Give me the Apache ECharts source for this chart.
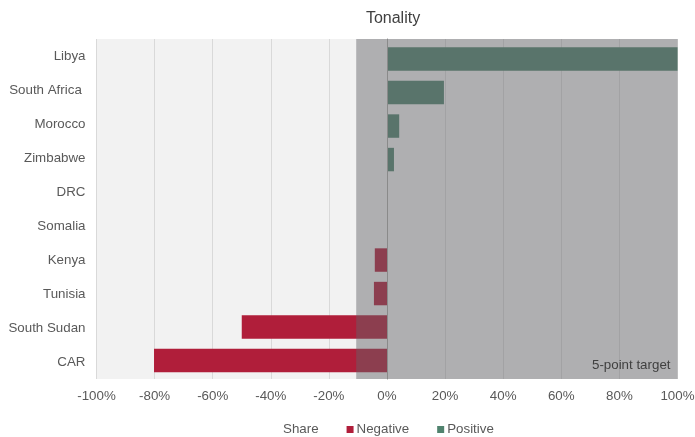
<!DOCTYPE html>
<html>
<head>
<meta charset="utf-8">
<script src="https://cdn.jsdelivr.net/npm/echarts@6/dist/echarts.min.js"></script>
<style>html,body{margin:0;padding:0;background:#fff;}#c{width:695px;height:437px;}</style>
</head>
<body>
<div id="c"></div>
<script>
var categories = ['Libya', 'South Africa ', 'Morocco', 'Zimbabwe', 'DRC', 'Somalia', 'Kenya', 'Tunisia', 'South Sudan', 'CAR'];
var negativeValues = [null, null, null, null, null, null, -4.2, -4.5, -50, -80.2];
var positiveValues = [100, 19.6, 4.2, 2.4, null, null, null, null, null, null];
var targetBand = [-10.6, 100];
var xTicks = { min: -100, max: 100, interval: 20 };

var chart = echarts.init(document.getElementById('c'));
var font = 'Liberation Sans, Arial, sans-serif';
var fs = 13.33;
chart.setOption({
  animation: false,
  textStyle: { fontFamily: font },
  title: {
    text: 'Tonality', left: 388, top: 6, textAlign: 'center',
    textStyle: { fontFamily: font, fontSize: 16, fontWeight: 'normal', color: '#404040' }
  },
  legend: {
    bottom: -4, left: 268, itemWidth: 7, itemHeight: 7, itemGap: 28,
    textStyle: { fontFamily: font, fontSize: fs, color: '#595959', padding: [0, 0, 0, -2] },
    data: [{ name: 'Share', icon: 'none' }, { name: 'Negative', icon: 'rect' }, { name: 'Positive', icon: 'rect' }]
  },
  grid: [
    { left: 96.5, right: 17.5, top: 39, bottom: 58, show: true, backgroundColor: '#f2f2f2', borderWidth: 0, containLabel: false, outerBoundsMode: 'none' },
    { left: 96.5, right: 17.5, top: 42.3, bottom: 59.7, show: false, containLabel: false, outerBoundsMode: 'none' }
  ],
  xAxis: [
    {
      type: 'value', gridIndex: 0, min: xTicks.min, max: xTicks.max, interval: xTicks.interval,
      axisLine: { show: false }, axisTick: { show: false },
      axisLabel: { formatter: function (v) { return v + '%'; }, color: '#595959', fontSize: fs, margin: 11, fontFamily: font },
      splitLine: { show: true, lineStyle: { color: '#d9d9d9', width: 1 } }
    },
    {
      type: 'value', gridIndex: 1, min: xTicks.min, max: xTicks.max, interval: xTicks.interval,
      axisLine: { show: false }, axisTick: { show: false }, axisLabel: { show: false }, splitLine: { show: false }
    }
  ],
  yAxis: [
    {
      type: 'category', gridIndex: 0, data: categories, inverse: true, z: 10,
      axisLine: { show: true, onZero: true, lineStyle: { color: '#8a8a8a', width: 1 } },
      axisTick: { show: false },
      axisLabel: { color: '#595959', fontSize: fs, margin: 11, fontFamily: font }
    },
    {
      type: 'category', gridIndex: 1, data: categories, inverse: true,
      axisLine: { show: false }, axisTick: { show: false }, axisLabel: { show: false }, splitLine: { show: false }
    }
  ],
  series: [
    { name: 'Negative', type: 'bar', xAxisIndex: 1, yAxisIndex: 1, stack: 't', data: negativeValues, barWidth: '70%', itemStyle: { color: '#b01e3a' }, z: 2 },
    { name: 'Positive', type: 'bar', xAxisIndex: 1, yAxisIndex: 1, stack: 't', data: positiveValues, barWidth: '70%', itemStyle: { color: '#50836e' }, z: 2 },
    {
      name: 'Share', type: 'line', xAxisIndex: 0, yAxisIndex: 0, data: [], z: 5, itemStyle: { color: '#999' },
      markArea: {
        silent: true, z: 5,
        itemStyle: { color: 'rgba(100,100,104,0.47)' },
        label: { show: true, position: 'insideBottomRight', distance: 7, color: '#404040', fontSize: fs, fontFamily: font },
        data: [[{ xAxis: targetBand[0], name: '5-point target' }, { xAxis: targetBand[1] }]]
      }
    }
  ]
});
</script>
</body>
</html>
